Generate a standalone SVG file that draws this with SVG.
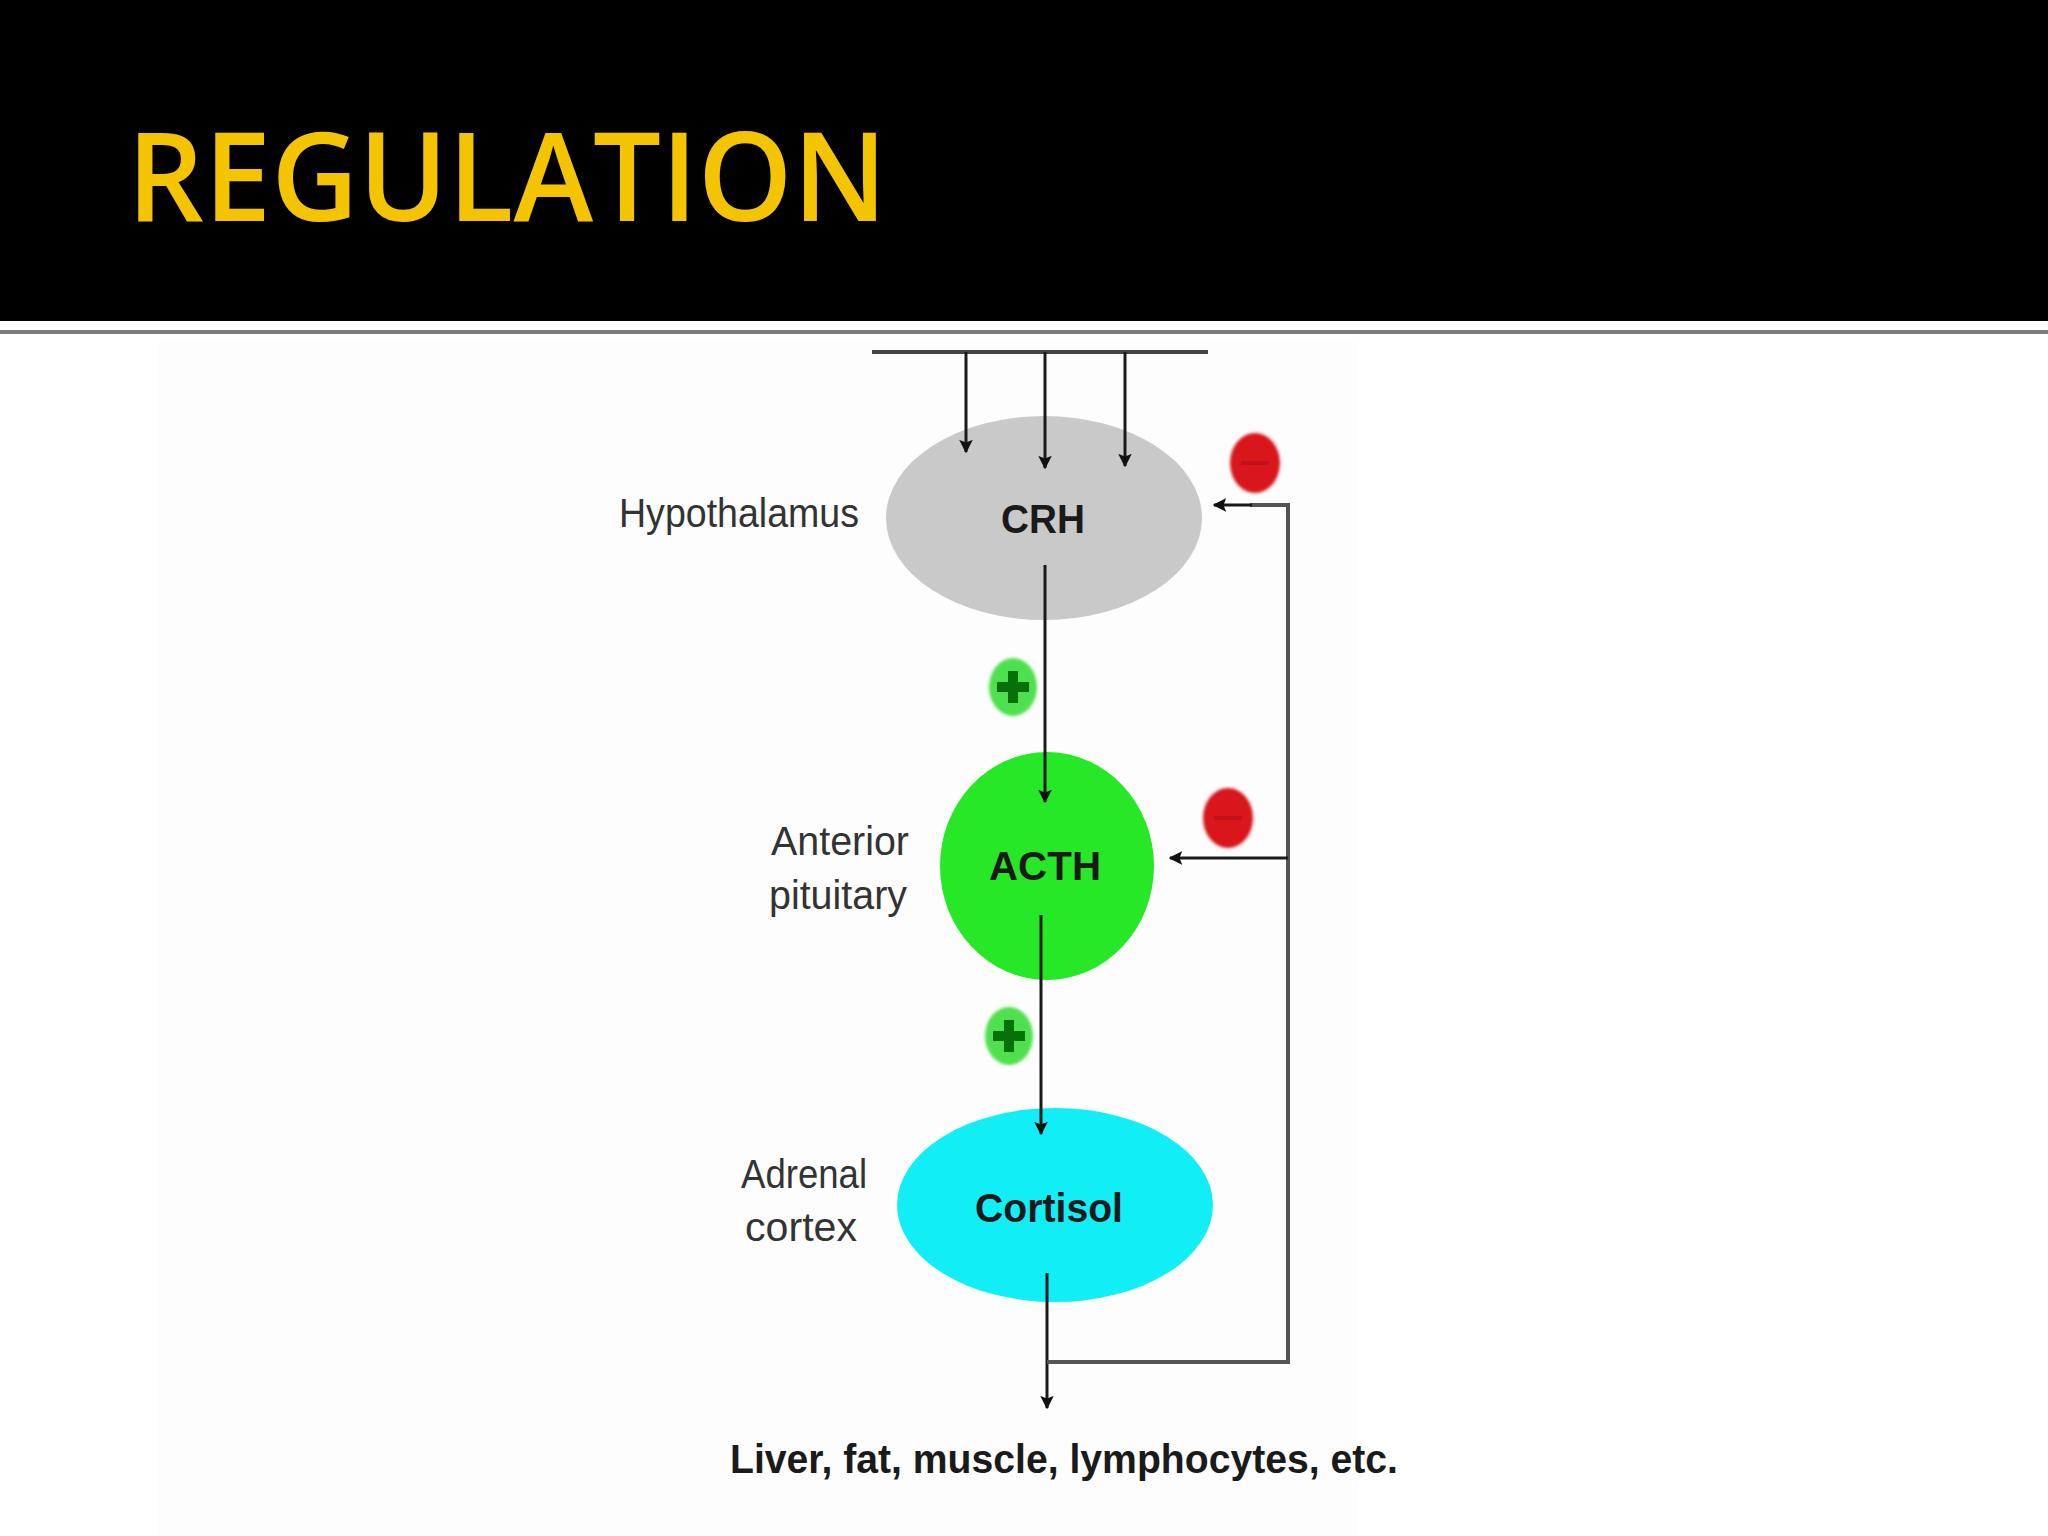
<svg xmlns="http://www.w3.org/2000/svg" width="2048" height="1536" viewBox="0 0 2048 1536">
<defs>
<marker id="arr" viewBox="0 0 10 10" refX="9" refY="5" markerWidth="4.5" markerHeight="4.5" orient="auto" markerUnits="strokeWidth">
<path d="M0,0 L10,5 L0,10 L2,5 z" fill="#111"/>
</marker>
<filter id="blur" x="-30%" y="-30%" width="160%" height="160%"><feGaussianBlur stdDeviation="1.5"/></filter>
</defs>
<style>
.lbl{font-family:"Liberation Sans",Arial,sans-serif;font-size:40px;fill:#333;text-anchor:middle}
.in{font-family:"Liberation Sans",Arial,sans-serif;font-weight:bold;font-size:40px;fill:#1a1a1a;text-anchor:middle}
.ln{stroke:#1a1a1a;stroke-width:3;fill:none}
.fb{stroke:#555;stroke-width:4;fill:none}
.minus{fill:#d8141c}
.plus{fill:#4fe04f}
</style>
<rect width="2048" height="1536" fill="#ffffff"/>
<rect x="157" y="342" width="1201" height="1194" fill="#fdfdfd"/>
<rect x="0" y="0" width="2048" height="321" fill="#000000"/>
<rect x="0" y="330" width="2048" height="4" fill="#7a7a7a"/>
<text x="127" y="221" font-family="'Open Sans',sans-serif" font-weight="600" font-size="124" fill="#f5c400" textLength="760" lengthAdjust="spacingAndGlyphs">REGULATION</text>

<g id="hypothalamus">
<ellipse cx="1044" cy="518" rx="158" ry="102" fill="#c9c9c9"/>
<text class="in" x="1043" y="533" textLength="84" lengthAdjust="spacingAndGlyphs">CRH</text>
<text class="lbl" x="739" y="527" textLength="240" lengthAdjust="spacingAndGlyphs">Hypothalamus</text>
</g>

<g id="acth">
<ellipse cx="1047" cy="866" rx="107" ry="114" fill="#27e827"/>
<text class="in" x="1045" y="880" fill="#0b3b0b" textLength="112" lengthAdjust="spacingAndGlyphs">ACTH</text>
<text class="lbl" x="840" y="855" textLength="138" lengthAdjust="spacingAndGlyphs">Anterior</text>
<text class="lbl" x="838" y="909" textLength="138" lengthAdjust="spacingAndGlyphs">pituitary</text>
</g>

<g id="cortisol">
<ellipse cx="1055" cy="1205" rx="158" ry="97" fill="#12eef6"/>
<text class="in" x="1049" y="1222" fill="#0a4a55" textLength="148" lengthAdjust="spacingAndGlyphs">Cortisol</text>
<text class="lbl" x="804" y="1188" textLength="126" lengthAdjust="spacingAndGlyphs">Adrenal</text>
<text class="lbl" x="801" y="1241" textLength="112" lengthAdjust="spacingAndGlyphs">cortex</text>
</g>

<g id="targets">
<text class="in" x="1064" y="1473" font-size="44" textLength="668" lengthAdjust="spacingAndGlyphs">Liver, fat, muscle, lymphocytes, etc.</text>
</g>

<g id="connectors">
<line x1="872" y1="352" x2="1208" y2="352" stroke="#444" stroke-width="4"/>
<line class="ln" x1="966" y1="352" x2="966" y2="452" marker-end="url(#arr)"/>
<line class="ln" x1="1045" y1="352" x2="1045" y2="468" marker-end="url(#arr)"/>
<line class="ln" x1="1125" y1="352" x2="1125" y2="466" marker-end="url(#arr)"/>
<line class="ln" x1="1045" y1="565" x2="1045" y2="802" marker-end="url(#arr)"/>
<line class="ln" x1="1041" y1="915" x2="1041" y2="1134" marker-end="url(#arr)"/>
<line class="ln" x1="1047" y1="1273" x2="1047" y2="1408" marker-end="url(#arr)"/>
<polyline class="fb" points="1047,1362 1288,1362 1288,505 1250,505"/>
<line class="ln" x1="1252" y1="505" x2="1214" y2="505" marker-end="url(#arr)"/>
<line class="ln" x1="1288" y1="858" x2="1170" y2="858" marker-end="url(#arr)"/>
</g>

<g id="minus-1">
<ellipse class="minus" cx="1255" cy="463" rx="25" ry="30" filter="url(#blur)"/>
<rect x="1241" y="461" width="28" height="4" fill="#c0121a"/>
</g>
<g id="minus-2">
<ellipse class="minus" cx="1228" cy="818" rx="25" ry="30" filter="url(#blur)"/>
<rect x="1214" y="816" width="28" height="4" fill="#c0121a"/>
</g>
<g id="plus-1">
<ellipse class="plus" cx="1013" cy="687" rx="24" ry="29" filter="url(#blur)"/>
<path d="M997,687 H1029 M1013,671 V703" stroke="#087008" stroke-width="10"/>
</g>
<g id="plus-2">
<ellipse class="plus" cx="1009" cy="1036" rx="24" ry="29" filter="url(#blur)"/>
<path d="M993,1036 H1025 M1009,1020 V1052" stroke="#087008" stroke-width="10"/>
</g>
</svg>
